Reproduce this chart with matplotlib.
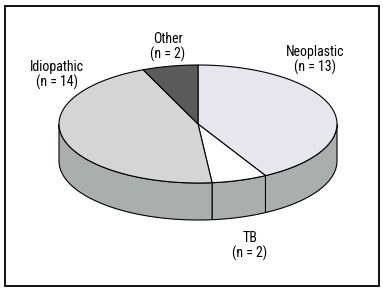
import numpy as np
import matplotlib.pyplot as plt
from matplotlib.patches import Polygon, Rectangle

labels = ['Neoplastic', 'TB', 'Idiopathic', 'Other']
counts = [13, 2, 14, 2]
top_colors = ['#e6e6ee', '#ffffff', '#d5d5d5', '#5b5b5b']
side_color = '#a9afac'
label_pos = [(315, 60), (250, 246), (57, 75), (168, 47)]

plt.rcParams['font.family'] = ['Roboto Condensed', 'DejaVu Sans']
plt.rcParams['font.stretch'] = 'condensed'

# pie geometry in pixels
cx, cy, a, b, depth = 198, 124, 139, 59, 37

fig = plt.figure(figsize=(3.83, 2.91), dpi=100)
ax = fig.add_axes([0, 0, 1, 1])
ax.set_xlim(0, 383)
ax.set_ylim(291, 0)
ax.axis('off')

ax.add_patch(Rectangle((4.5, 5.5), 374, 280, fill=False, ec='black', lw=1.3))


def arc(t0, t1, dy=0, n=80):
    t = np.linspace(t0, t1, n)
    return np.column_stack([cx + a * np.cos(t), cy - b * np.sin(t) + dy])


total = sum(counts)
start = np.pi / 2
bounds = []
for c in counts:
    end = start - 2 * np.pi * c / total
    bounds.append((start, end))
    start = end

# sides (front half only)
for (t0, t1) in bounds:
    for k in (-2, 0, 2):
        lo = max(t1, -np.pi + k * np.pi)
        hi = min(t0, 0 + k * np.pi)
        if hi > lo:
            top = arc(hi, lo)
            bot = arc(lo, hi, dy=depth)
            ax.add_patch(Polygon(np.vstack([top, bot]), closed=True,
                                 fc=side_color, ec='black', lw=0.8))

# top faces
for (t0, t1), col in zip(bounds, top_colors):
    pts = np.vstack([[cx, cy], arc(t0, t1)])
    ax.add_patch(Polygon(pts, closed=True, fc=col, ec='black', lw=0.8))

for lab, n, (x, y) in zip(labels, counts, label_pos):
    ax.text(x, y, f'{lab}\n(n = {n})', ha='center', va='center',
            fontsize=10, linespacing=1.0)

fig.savefig('out.png', dpi=100)
